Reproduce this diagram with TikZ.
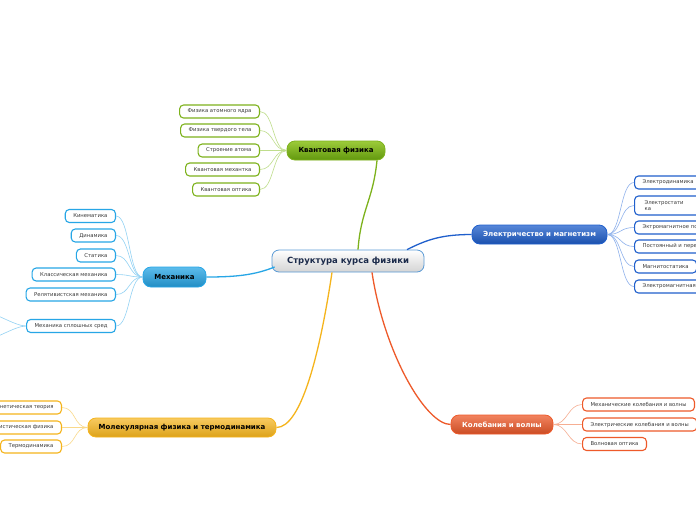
\documentclass[tikz,border=0pt]{standalone}
\usepackage{fontspec}
\setmainfont{DejaVu Sans}
\usetikzlibrary{positioning,calc}
\definecolor{leafink}{HTML}{3A3A3A}
\definecolor{rootink}{HTML}{1B2A4A}
\definecolor{rootedge}{HTML}{5A9AD5}
\definecolor{quantline}{HTML}{7DB21C}
\definecolor{quanttop}{HTML}{9CCB3A}
\definecolor{quantbot}{HTML}{62980E}
\definecolor{quanttwig}{HTML}{BFDD8C}
\definecolor{mechline}{HTML}{27A6E6}
\definecolor{mechtwig}{HTML}{93D2F4}
\definecolor{elecline}{HTML}{1F5FCC}
\definecolor{electwig}{HTML}{8FB2EC}
\definecolor{molline}{HTML}{F5B41C}
\definecolor{moltwig}{HTML}{FAD98A}
\definecolor{oscline}{HTML}{EE5A2A}
\definecolor{osctwig}{HTML}{F6AE92}

\begin{document}
\begin{tikzpicture}[x=1pt,y=-1pt,
  leaf/.style={draw,fill=white,rounded corners=4pt,line width=1.1pt,
               minimum height=13pt,inner xsep=8pt,inner ysep=1pt,
               font=\fontsize{5.3}{6.2}\selectfont,text=leafink},
  topic/.style={draw,rounded corners=8pt,line width=0.8pt,minimum height=19pt,
                font=\fontsize{7}{8}\selectfont\bfseries},
  twig/.style={line width=0.6pt},
  limb/.style={line width=1.3pt}]
\fill[white] (0,0) rectangle (696,520);
\useasboundingbox (0,0) rectangle (696,520);
\clip (0,0) rectangle (696,520);

% root
\node[draw=rootedge,line width=0.8pt,rounded corners=7pt,top color=white,
      bottom color=black!17,minimum width=152pt,minimum height=22pt,
      font=\fontsize{8.5}{10}\selectfont\bfseries,text=rootink]
      (center) at (348,261) {Структура курса физики};

% main topics
\node[topic,draw=quantline,top color=quanttop,bottom color=quantbot,
      minimum width=98pt,text=black] (quant) at (336,150.5) {Квантовая физика};
\node[topic,draw=mechline,top color=mechline!75,bottom color=mechline!85!black,
      minimum width=63pt,minimum height=20pt,text=black] (mech) at (174.5,277) {Механика};
\node[topic,draw=elecline,top color=elecline!75,bottom color=elecline!85!black,
      minimum width=135pt,text=white] (elec) at (539.5,234.5) {Электричество и магнетизм};
\node[topic,draw=molline,top color=molline!70,bottom color=molline!90!black,
      minimum width=188pt,text=black] (mol) at (182,427.5) {Молекулярная физика и термодинамика};
\node[topic,draw=oscline,top color=oscline!75,bottom color=oscline!85!black,
      minimum width=102pt,text=white] (osc) at (502,424.5) {Колебания и волны};

% quantum leaves
\node[leaf,draw=quantline,anchor=east] (q1) at (260,111.5) {Физика атомного ядра};
\node[leaf,draw=quantline,anchor=east] (q2) at (260,130.5) {Физика твердого тела};
\node[leaf,draw=quantline,anchor=east] (q3) at (260,150.5) {Строение атома};
\node[leaf,draw=quantline,anchor=east] (q4) at (260,169.5) {Квантовая механтка};
\node[leaf,draw=quantline,anchor=east] (q5) at (260,189.5) {Квантовая оптика};

% mechanics leaves
\node[leaf,draw=mechline,anchor=east] (m1) at (116,216) {Кинематика};
\node[leaf,draw=mechline,anchor=east] (m2) at (116,235.5) {Динамика};
\node[leaf,draw=mechline,anchor=east] (m3) at (116,255.5) {Статика};
\node[leaf,draw=mechline,anchor=east] (m4) at (116,274.5) {Классическая механика};
\node[leaf,draw=mechline,anchor=east] (m5) at (116,294.5) {Релятивистская механика};
\node[leaf,draw=mechline,anchor=east] (m6) at (116,326) {Механика сплошных сред};
\coordinate (m61) at (-20,311);
\coordinate (m62) at (-20,341);

% molecular leaves
\node[leaf,draw=molline,anchor=east] (t1) at (62,407.5) {Молекулярно-кинетическая теория};
\node[leaf,draw=molline,anchor=east] (t2) at (62,427.5) {Статистическая физика};
\node[leaf,draw=molline,anchor=east] (t3) at (62,446.5) {Термодинамика};

% electricity leaves
\node[leaf,draw=elecline,anchor=west] (e1) at (634,182.5) {Электродинамика};
\node[leaf,draw=elecline,anchor=west,align=left,text width=48pt,minimum height=19pt,
      inner xsep=10pt] (e2) at (634,205.5) {Электростати\\ка};
\node[leaf,draw=elecline,anchor=west] (e3) at (634,227.5) {Эктромагнитное поле};
\node[leaf,draw=elecline,anchor=west] (e4) at (634,246.5) {Постоянный и переменный ток};
\node[leaf,draw=elecline,anchor=west] (e5) at (634,266.5) {Магнитостатика};
\node[leaf,draw=elecline,anchor=west] (e6) at (634,286.5) {Электромагнитная индукция};

% wave leaves
\node[leaf,draw=oscline,anchor=west] (w1) at (582,404.5) {Механические колебания и волны};
\node[leaf,draw=oscline,anchor=west] (w2) at (582,424.5) {Электрические колебания и волны};
\node[leaf,draw=oscline,anchor=west] (w3) at (582,444) {Волновая оптика};

% limbs
\draw[limb,quantline] ($(center.north)+(10,0)$) .. controls +(3,-40) and +(-4,40) .. ($(quant.south)+(41,0)$);
\draw[limb,mechline] ($(center.west)+(3,6)$) .. controls +(-20,8) and +(30,0) .. (mech.east);
\draw[limb,elecline] ($(center.north)+(59,0)$) .. controls +(20,-10) and +(-30,0) .. (elec.west);
\draw[limb,molline] ($(center.south)+(-16,0)$) .. controls +(-12,80) and +(25,0) .. (mol.east);
\draw[limb,oscline] ($(center.south)+(24,0)$) .. controls +(12,80) and +(-25,0) .. (osc.west);

% twigs
\foreach \n in {q1,q2,q3,q4,q5}
  \draw[twig,quanttwig] (quant.west) .. controls +(-14,0) and +(14,0) .. (\n.east);
\foreach \n in {m1,m2,m3,m4,m5,m6}
  \draw[twig,mechtwig] (mech.west) .. controls +(-14,0) and +(14,0) .. (\n.east);
\foreach \n in {m61,m62}
  \draw[twig,mechtwig] (m6.west) .. controls +(-12,0) and +(14,0) .. (\n);
\foreach \n in {t1,t2,t3}
  \draw[twig,moltwig] (mol.west) .. controls +(-14,0) and +(14,0) .. (\n.east);
\foreach \n in {e1,e2,e3,e4,e5,e6}
  \draw[twig,electwig] (elec.east) .. controls +(14,0) and +(-14,0) .. (\n.west);
\foreach \n in {w1,w2,w3}
  \draw[twig,osctwig] (osc.east) .. controls +(14,0) and +(-14,0) .. (\n.west);
\end{tikzpicture}
\end{document}
